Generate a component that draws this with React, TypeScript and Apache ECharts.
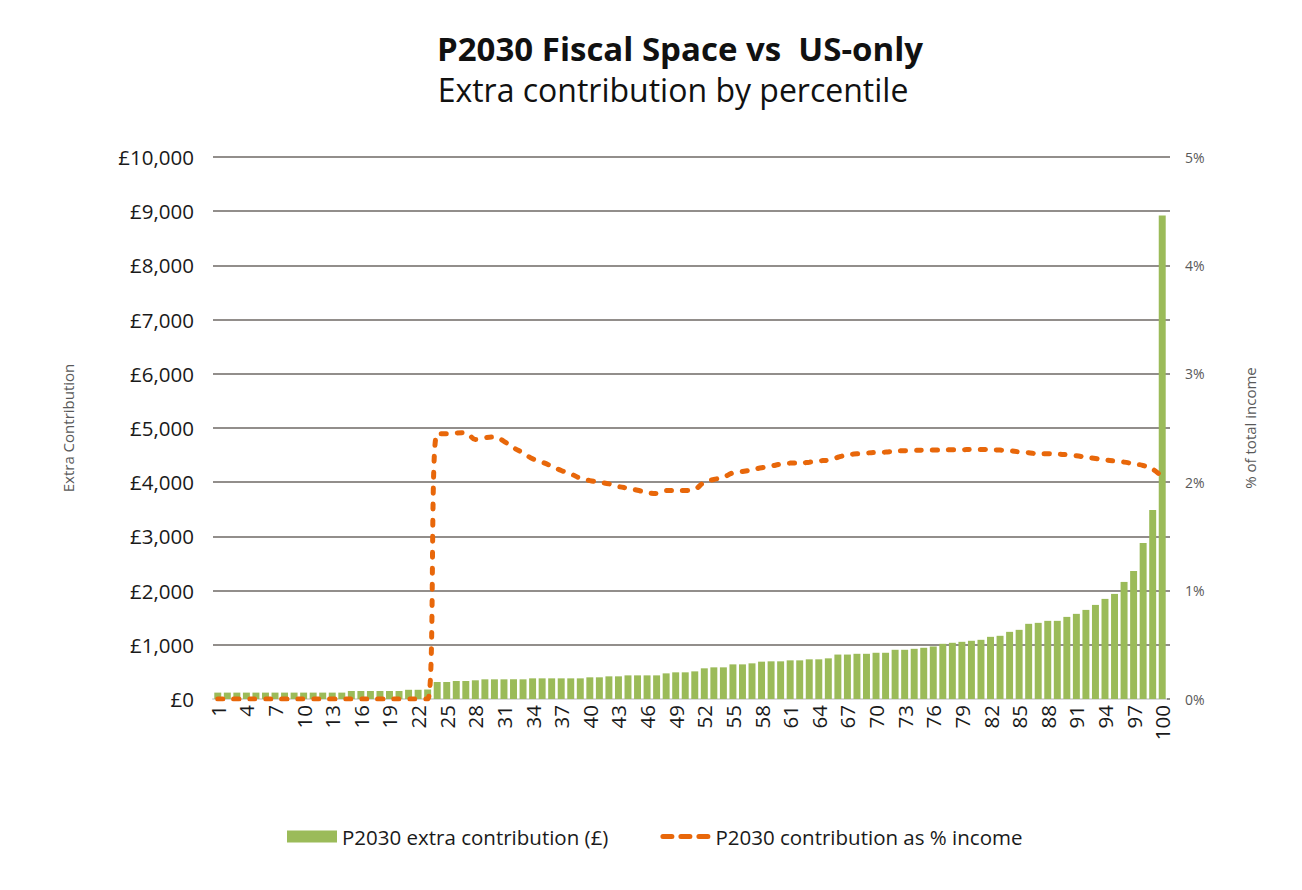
import React, { useEffect, useRef } from "react";
import * as echarts from "echarts";

// Percentile categories 1..100
const percentiles: string[] = [
  "1","2","3","4","5","6","7","8","9","10",
  "11","12","13","14","15","16","17","18","19","20",
  "21","22","23","24","25","26","27","28","29","30",
  "31","32","33","34","35","36","37","38","39","40",
  "41","42","43","44","45","46","47","48","49","50",
  "51","52","53","54","55","56","57","58","59","60",
  "61","62","63","64","65","66","67","68","69","70",
  "71","72","73","74","75","76","77","78","79","80",
  "81","82","83","84","85","86","87","88","89","90",
  "91","92","93","94","95","96","97","98","99","100",
];

// Extra contribution (£) per percentile
const extraContribution: number[] = [
  118, 118, 118, 118, 118, 118, 118, 118, 118, 118,
  118, 118, 118, 118, 148, 148, 148, 148, 148, 148,
  170, 170, 175, 314, 314, 332, 332, 345, 363, 363,
  363, 363, 363, 381, 381, 381, 381, 381, 381, 400,
  400, 418, 418, 436, 436, 436, 436, 473, 492, 492,
  510, 566, 584, 584, 639, 639, 658, 689, 695, 695,
  713, 713, 732, 732, 750, 820, 820, 834, 834, 853,
  853, 908, 908, 926, 945, 969, 1018, 1037, 1055, 1074,
  1092, 1147, 1166, 1239, 1276, 1387, 1405, 1442, 1442, 1515,
  1571, 1644, 1736, 1847, 1939, 2160, 2362, 2877, 3487, 8920,
];

// Contribution as % of total income per percentile
const contributionPct: number[] = [
  0, 0, 0, 0, 0, 0, 0, 0, 0, 0,
  0, 0, 0, 0, 0, 0, 0, 0, 0, 0,
  0, 0, 0, 2.447, 2.447, 2.454, 2.457, 2.395, 2.41, 2.417,
  2.377, 2.318, 2.27, 2.216, 2.185, 2.148, 2.108, 2.077, 2.037, 2.015,
  2.0, 1.985, 1.96, 1.944, 1.926, 1.904, 1.895, 1.923, 1.923, 1.923,
  1.935, 2.0, 2.025, 2.046, 2.086, 2.099, 2.114, 2.133, 2.148, 2.167,
  2.176, 2.176, 2.185, 2.197, 2.204, 2.23, 2.253, 2.262, 2.269, 2.275,
  2.278, 2.287, 2.29, 2.293, 2.296, 2.296, 2.296, 2.3, 2.3, 2.302,
  2.302, 2.3, 2.296, 2.29, 2.28, 2.272, 2.262, 2.262, 2.26, 2.253,
  2.244, 2.231, 2.219, 2.207, 2.195, 2.185, 2.17, 2.154, 2.12, 2.05,
];

const seriesNames = ["P2030 extra contribution (£)", "P2030 contribution as % income"];

const GREEN = "#9bbb59";
const ORANGE = "#e8670a";
const GRID = "#6e6964";
const FONT = "'Open Sans', 'Noto Sans', sans-serif";

// Legend swatch for the dashed line: three rounded dashes, with two tiny
// corner dots so the icon keeps a 50x12 bounding box.
const DASH_ICON =
  "path://M0,0h0.1v0.1h-0.1z M49.9,11.9h0.1v0.1h-0.1z " +
  "M2.5,3.5h9a2.5,2.5 0 0 1 0,5h-9a2.5,2.5 0 0 1 0,-5z " +
  "M20.5,3.5h9a2.5,2.5 0 0 1 0,5h-9a2.5,2.5 0 0 1 0,-5z " +
  "M38.5,3.5h9a2.5,2.5 0 0 1 0,5h-9a2.5,2.5 0 0 1 0,-5z";

export default function App() {
  const ref = useRef<HTMLDivElement>(null);

  useEffect(() => {
    if (!ref.current) return;
    const chart = echarts.init(ref.current, null, { renderer: "svg" });
    chart.setOption({
      animation: false,
      backgroundColor: "#ffffff",
      textStyle: { fontFamily: FONT },
      title: [
        {
          text: "P2030 Fiscal Space vs  US-only",
          left: 675,
          top: 27,
          textAlign: "center",
          textStyle: { fontFamily: FONT, fontWeight: "bold", fontSize: 33, color: "#111111" },
        },
        {
          text: "Extra contribution by percentile",
          left: 668,
          top: 68,
          textAlign: "center",
          textStyle: { fontFamily: FONT, fontWeight: "normal", fontSize: 32, color: "#111111" },
        },
      ],
      legend: {
        left: 287,
        top: 826,
        padding: 0,
        itemWidth: 50,
        itemHeight: 12,
        itemGap: 52,
        textStyle: { fontSize: 20.5, color: "#1a1a1a", fontFamily: FONT },
        data: [
          { name: seriesNames[0], icon: "rect" },
          { name: seriesNames[1], icon: DASH_ICON, itemStyle: { color: ORANGE, borderWidth: 0 } },
        ],
      },
      grid: { left: 213, right: 135, top: 157, bottom: 191, containLabel: false },
      xAxis: {
        type: "category",
        data: percentiles,
        axisTick: { show: false },
        axisLine: { lineStyle: { color: "#d9d9d9", width: 2 } },
        axisLabel: {
          interval: 2,
          rotate: 90,
          fontSize: 20.5,
          color: "#1a1a1a",
          margin: 6,
        },
      },
      yAxis: [
        {
          type: "value",
          min: 0,
          max: 10000,
          interval: 1000,
          name: "Extra Contribution",
          nameLocation: "middle",
          nameRotate: 90,
          nameGap: 138,
          nameTextStyle: { fontSize: 15, color: "#595959" },
          axisLine: { show: false },
          axisTick: { show: false },
          axisLabel: {
            fontSize: 20.5,
            color: "#1a1a1a",
            margin: 19,
            formatter: (v: number) => "£" + v.toLocaleString("en-GB"),
          },
          splitLine: { lineStyle: { color: GRID, width: 1.5 } },
        },
        {
          type: "value",
          min: 0,
          max: 5,
          interval: 0.5,
          name: "% of total income",
          nameLocation: "middle",
          nameRotate: 90,
          nameGap: 75,
          nameTextStyle: { fontSize: 15, color: "#595959" },
          axisLine: { show: false },
          axisTick: { show: true, length: 3, lineStyle: { color: GRID, width: 1.5 } },
          axisLabel: {
            fontSize: 14,
            color: "#595959",
            margin: 18,
            formatter: (v: number) => (Number.isInteger(v) ? v + "%" : ""),
          },
          splitLine: { show: false },
        },
      ],
      series: [
        {
          name: seriesNames[0],
          type: "bar",
          data: extraContribution,
          yAxisIndex: 0,
          barCategoryGap: "27%",
          itemStyle: { color: GREEN },
        },
        {
          name: seriesNames[1],
          type: "line",
          data: contributionPct,
          yAxisIndex: 1,
          smooth: 0.4,
          symbol: "none",
          showSymbol: false,
          itemStyle: { color: ORANGE },
          lineStyle: { color: ORANGE, width: 5, type: [5, 11], cap: "round" },
          z: 5,
        },
      ],
    });
    return () => chart.dispose();
  }, []);

  return (
    <div
      ref={ref}
      style={{ position: "fixed", left: 0, top: 0, width: 1302, height: 890, background: "#fff" }}
    />
  );
}
